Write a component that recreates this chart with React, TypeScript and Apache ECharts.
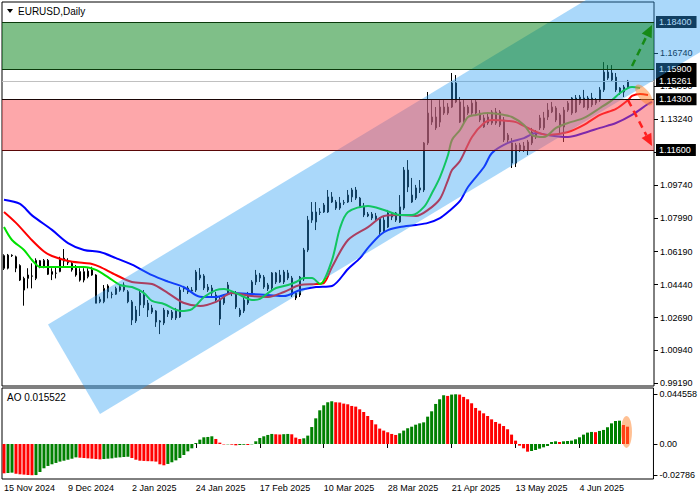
import React, { useEffect, useRef } from "react";
import * as echarts from "echarts";

// ---------- DATA ----------
const dateLabels = ["15 Nov 2024", "9 Dec 2024", "2 Jan 2025", "24 Jan 2025", "17 Feb 2025", "10 Mar 2025", "28 Mar 2025", "21 Apr 2025", "13 May 2025", "4 Jun 2025"];
const LABEL_STEP = 16;
const SLOT_COUNT = 163;
const categories = Array.from({ length: SLOT_COUNT }, (_, i) => "B" + i);

// [open, close, low, high]
const ohlc: number[][] = [
  [1.0598, 1.0531, 1.0522, 1.0605], [1.0531, 1.0601, 1.0525, 1.0607], [1.0600, 1.0598, 1.0591, 1.0605], [1.0531, 1.0592, 1.0510, 1.0598],
  [1.0545, 1.0468, 1.0463, 1.0552], [1.0477, 1.0415, 1.0332, 1.0486], [1.0477, 1.0495, 1.0424, 1.0531], [1.0490, 1.0489, 1.0424, 1.0557],
  [1.0477, 1.0573, 1.0468, 1.0584], [1.0571, 1.0543, 1.0531, 1.0575], [1.0539, 1.0573, 1.0531, 1.0580], [1.0573, 1.0499, 1.0495, 1.0580],
  [1.0513, 1.0499, 1.0468, 1.0531], [1.0505, 1.0504, 1.0477, 1.0539], [1.0513, 1.0584, 1.0510, 1.0592], [1.0584, 1.0569, 1.0539, 1.0633],
  [1.0561, 1.0560, 1.0548, 1.0584], [1.0557, 1.0523, 1.0513, 1.0566], [1.0531, 1.0495, 1.0486, 1.0548], [1.0513, 1.0468, 1.0460, 1.0531],
  [1.0468, 1.0513, 1.0456, 1.0531], [1.0486, 1.0516, 1.0477, 1.0531], [1.0495, 1.0522, 1.0491, 1.0539], [1.0495, 1.0345, 1.0345, 1.0499],
  [1.0353, 1.0366, 1.0345, 1.0380], [1.0353, 1.0424, 1.0345, 1.0442], [1.0437, 1.0406, 1.0371, 1.0446], [1.0393, 1.0392, 1.0371, 1.0406],
  [1.0393, 1.0424, 1.0389, 1.0433], [1.0415, 1.0433, 1.0406, 1.0442], [1.0442, 1.0415, 1.0406, 1.0456], [1.0406, 1.0353, 1.0345, 1.0415],
  [1.0352, 1.0256, 1.0229, 1.0362], [1.0251, 1.0309, 1.0240, 1.0330], [1.0399, 1.0336, 1.0277, 1.0415], [1.0336, 1.0389, 1.0320, 1.0415],
  [1.0346, 1.0309, 1.0272, 1.0362], [1.0320, 1.0298, 1.0288, 1.0336], [1.0304, 1.0245, 1.0219, 1.0309], [1.0251, 1.0245, 1.0181, 1.0256],
  [1.0240, 1.0309, 1.0229, 1.0320], [1.0288, 1.0304, 1.0272, 1.0309], [1.0298, 1.0267, 1.0256, 1.0309], [1.0304, 1.0267, 1.0256, 1.0320],
  [1.0272, 1.0415, 1.0267, 1.0431], [1.0421, 1.0426, 1.0405, 1.0437], [1.0426, 1.0405, 1.0394, 1.0437], [1.0410, 1.0415, 1.0399, 1.0431],
  [1.0415, 1.0511, 1.0405, 1.0522], [1.0479, 1.0495, 1.0468, 1.0532], [1.0490, 1.0426, 1.0415, 1.0500], [1.0431, 1.0415, 1.0405, 1.0447],
  [1.0426, 1.0399, 1.0378, 1.0442], [1.0389, 1.0362, 1.0352, 1.0405], [1.0261, 1.0365, 1.0229, 1.0378], [1.0346, 1.0383, 1.0336, 1.0394],
  [1.0442, 1.0399, 1.0389, 1.0458], [1.0402, 1.0405, 1.0383, 1.0410], [1.0399, 1.0325, 1.0314, 1.0410], [1.0282, 1.0309, 1.0272, 1.0320],
  [1.0304, 1.0362, 1.0293, 1.0378], [1.0346, 1.0389, 1.0336, 1.0405], [1.0399, 1.0458, 1.0389, 1.0468], [1.0458, 1.0495, 1.0442, 1.0522],
  [1.0495, 1.0479, 1.0458, 1.0506], [1.0484, 1.0431, 1.0421, 1.0495], [1.0442, 1.0421, 1.0410, 1.0453], [1.0426, 1.0506, 1.0415, 1.0511],
  [1.0506, 1.0458, 1.0447, 1.0511], [1.0458, 1.0495, 1.0453, 1.0522], [1.0511, 1.0458, 1.0447, 1.0522], [1.0506, 1.0479, 1.0468, 1.0522],
  [1.0479, 1.0389, 1.0378, 1.0490], [1.0373, 1.0399, 1.0362, 1.0405], [1.0389, 1.0484, 1.0378, 1.0490], [1.0474, 1.0628, 1.0463, 1.0639],
  [1.0628, 1.0787, 1.0617, 1.0809], [1.0787, 1.0830, 1.0772, 1.0883], [1.0777, 1.0830, 1.0734, 1.0883], [1.0830, 1.0828, 1.0814, 1.0851],
  [1.0830, 1.0867, 1.0825, 1.0878], [1.0830, 1.0910, 1.0825, 1.0947], [1.0910, 1.0883, 1.0878, 1.0936], [1.0883, 1.0851, 1.0841, 1.0894],
  [1.0851, 1.0878, 1.0841, 1.0910], [1.0878, 1.0880, 1.0867, 1.0894], [1.0883, 1.0920, 1.0878, 1.0947], [1.0910, 1.0947, 1.0883, 1.0958],
  [1.0947, 1.0904, 1.0894, 1.0963], [1.0904, 1.0857, 1.0851, 1.0910], [1.0857, 1.0814, 1.0803, 1.0878], [1.0819, 1.0809, 1.0803, 1.0830],
  [1.0819, 1.0798, 1.0787, 1.0830], [1.0793, 1.0809, 1.0777, 1.0825], [1.0798, 1.0724, 1.0708, 1.0803], [1.0787, 1.0724, 1.0718, 1.0803],
  [1.0750, 1.0825, 1.0745, 1.0841], [1.0825, 1.0803, 1.0787, 1.0830], [1.0825, 1.0787, 1.0777, 1.0830], [1.0777, 1.0857, 1.0772, 1.0920],
  [1.0851, 1.1053, 1.0841, 1.1069], [1.1053, 1.0963, 1.0936, 1.1106], [1.0920, 1.0883, 1.0878, 1.1011], [1.0904, 1.0958, 1.0894, 1.0974],
  [1.0947, 1.0958, 1.0931, 1.1000], [1.0947, 1.1197, 1.0936, 1.1202], [1.1197, 1.1356, 1.1186, 1.1468], [1.1308, 1.1335, 1.1293, 1.1425],
  [1.1335, 1.1277, 1.1266, 1.1388], [1.1308, 1.1388, 1.1282, 1.1425], [1.1388, 1.1356, 1.1346, 1.1425], [1.1356, 1.1388, 1.1346, 1.1409],
  [1.1388, 1.1516, 1.1383, 1.1569], [1.1516, 1.1415, 1.1409, 1.1558], [1.1415, 1.1308, 1.1303, 1.1441], [1.1308, 1.1388, 1.1303, 1.1425],
  [1.1388, 1.1356, 1.1346, 1.1399], [1.1356, 1.1409, 1.1346, 1.1425], [1.1415, 1.1356, 1.1346, 1.1425], [1.1356, 1.1319, 1.1308, 1.1372],
  [1.1330, 1.1282, 1.1277, 1.1346], [1.1303, 1.1335, 1.1293, 1.1356], [1.1362, 1.1303, 1.1293, 1.1372], [1.1303, 1.1362, 1.1293, 1.1383],
  [1.1362, 1.1293, 1.1282, 1.1372], [1.1319, 1.1213, 1.1202, 1.1335], [1.1239, 1.1213, 1.1197, 1.1250], [1.1197, 1.1090, 1.1064, 1.1223],
  [1.1090, 1.1186, 1.1069, 1.1197], [1.1186, 1.1160, 1.1149, 1.1197], [1.1181, 1.1160, 1.1149, 1.1202], [1.1160, 1.1202, 1.1133, 1.1213],
  [1.1197, 1.1255, 1.1186, 1.1277], [1.1229, 1.1255, 1.1218, 1.1266], [1.1330, 1.1277, 1.1266, 1.1346], [1.1277, 1.1330, 1.1266, 1.1362],
  [1.1372, 1.1335, 1.1319, 1.1409], [1.1362, 1.1388, 1.1356, 1.1415], [1.1383, 1.1319, 1.1308, 1.1393], [1.1346, 1.1282, 1.1250, 1.1356],
  [1.1282, 1.1372, 1.1202, 1.1388], [1.1372, 1.1409, 1.1362, 1.1420], [1.1356, 1.1436, 1.1346, 1.1441], [1.1436, 1.1362, 1.1356, 1.1452],
  [1.1409, 1.1441, 1.1399, 1.1452], [1.1436, 1.1388, 1.1383, 1.1479], [1.1436, 1.1383, 1.1372, 1.1447], [1.1399, 1.1436, 1.1388, 1.1463],
  [1.1425, 1.1409, 1.1399, 1.1436], [1.1425, 1.1479, 1.1415, 1.1494], [1.1479, 1.1574, 1.1468, 1.1627], [1.1574, 1.1542, 1.1532, 1.1611],
  [1.1532, 1.1569, 1.1521, 1.1611], [1.1547, 1.1479, 1.1468, 1.1569], [1.1489, 1.1463, 1.1452, 1.1494], [1.1468, 1.1494, 1.1441, 1.1505],
  [1.1494, 1.15261, 1.1489, 1.1532],
];

// Alligator lines: [bar index, price]
const jawPoints: number[][] = [
  [0, 1.0895], [4, 1.0873], [7, 1.0812], [12, 1.0735], [16, 1.0665], [20, 1.0628], [24, 1.0617], [28, 1.0585], [32, 1.0550],
  [37, 1.0494], [41, 1.0460], [45, 1.0430], [49, 1.0380], [53, 1.0378], [57, 1.0399], [62, 1.0394], [66, 1.0389], [70, 1.0383],
  [74, 1.0415], [78, 1.0431], [82, 1.0437], [86, 1.0527], [89, 1.0585], [91, 1.0639], [94, 1.0708], [96, 1.0734], [99, 1.0750],
  [103, 1.0761], [106, 1.0772], [109, 1.0798], [111, 1.0830], [114, 1.0889], [116, 1.0963], [120, 1.1069], [122, 1.1144],
  [126, 1.1197], [130, 1.1223], [133, 1.1250], [136, 1.1239], [141, 1.1229], [145, 1.1250], [149, 1.1277], [153, 1.1303],
  [157, 1.1346], [161, 1.1404], [162, 1.1415],
];
const teethPoints: number[][] = [
  [0, 1.0830], [3, 1.0772], [7, 1.0680], [10, 1.0620], [12, 1.0596], [16, 1.0570], [20, 1.0559], [22, 1.0554], [24, 1.0538],
  [28, 1.0495], [32, 1.0458], [37, 1.0447], [41, 1.0399], [45, 1.0346], [49, 1.0330], [53, 1.0352], [57, 1.0399], [62, 1.0383],
  [66, 1.0378], [70, 1.0405], [74, 1.0442], [78, 1.0447], [80, 1.0453], [82, 1.0538], [86, 1.0681], [91, 1.0750], [95, 1.0809],
  [99, 1.0814], [103, 1.0809], [106, 1.0841], [109, 1.0900], [111, 1.1000], [112, 1.1053], [114, 1.1101], [117, 1.1229],
  [120, 1.1303], [122, 1.1319], [126, 1.1314], [128, 1.1308], [132, 1.1266], [136, 1.1239], [141, 1.1255], [145, 1.1293],
  [149, 1.1346], [153, 1.1378], [156, 1.1425], [157, 1.1447], [159, 1.1457], [161, 1.1452],
];
const lipsPoints: number[][] = [
  [0, 1.0750], [2, 1.0681], [5, 1.0628], [7, 1.0575], [9, 1.0538], [12, 1.0538], [16, 1.0538], [20, 1.0538], [23, 1.0522],
  [26, 1.0484], [29, 1.0442], [32, 1.0431], [35, 1.0399], [37, 1.0357], [40, 1.0341], [44, 1.0304], [47, 1.0314], [50, 1.0378],
  [53, 1.0415], [55, 1.0421], [58, 1.0399], [60, 1.0378], [62, 1.0362], [64, 1.0368], [66, 1.0399], [68, 1.0426], [71, 1.0442],
  [73, 1.0458], [75, 1.0479], [77, 1.0479], [79, 1.0447], [82, 1.0575], [84, 1.0745], [86, 1.0830], [91, 1.0862], [95, 1.0841],
  [99, 1.0814], [102, 1.0814], [105, 1.0857], [107, 1.0931], [109, 1.1016], [111, 1.1133], [112, 1.1213], [114, 1.1266],
  [116, 1.1335], [118, 1.1346], [121, 1.1356], [125, 1.1346], [127, 1.1335], [130, 1.1293], [132, 1.1239], [135, 1.1229],
  [138, 1.1277], [141, 1.1303], [145, 1.1330], [149, 1.1383], [152, 1.1425], [154, 1.1463], [156, 1.1489], [157, 1.1494],
  [159, 1.1489],
];

// Awesome Oscillator
const aoValues: number[] = [
  -0.0263, -0.0260, -0.0257, -0.0266, -0.0272, -0.0275, -0.0278, -0.0280, -0.02786,
  -0.0251, -0.0218, -0.0197, -0.0182, -0.0170, -0.0158, -0.0150, -0.0141, -0.0132, -0.0120,
  -0.0123, -0.0126, -0.0129, -0.0132, -0.0135, -0.0138,
  -0.0135, -0.0132, -0.0129, -0.0123, -0.0120, -0.0117, -0.0114,
  -0.0126, -0.0141, -0.0150, -0.0152, -0.0154, -0.0155, -0.0158, -0.0182, -0.0191,
  -0.0179, -0.0164, -0.0147, -0.0126, -0.0099, -0.0066, -0.0039,
  0.0009, 0.0039, 0.0060, 0.0063, 0.0069,
  0.0045, 0.0012, -0.0004, -0.0003, -0.0006, -0.0012, -0.0009, -0.0007, -0.0009, -0.0003,
  0.0024, 0.0054, 0.0069, 0.0081, 0.0090,
  0.0087, 0.0085, 0.0088, 0.0090, 0.0087, 0.0057, 0.0045,
  0.0051, 0.0075, 0.0152, 0.0230, 0.0302, 0.0347, 0.0374, 0.0383,
  0.0374, 0.0372, 0.0362, 0.0356, 0.0341, 0.0335, 0.0311, 0.0287, 0.0251, 0.0215, 0.0176, 0.0138, 0.0120, 0.0105, 0.0090, 0.0081,
  0.0096, 0.0120, 0.0141, 0.0155, 0.0173, 0.0185, 0.0194, 0.0245, 0.0293, 0.0359, 0.0401, 0.0437,
  0.0431, 0.0443, 0.044558, 0.0443, 0.0422, 0.0401, 0.0365, 0.0323, 0.0299, 0.0275, 0.0251, 0.0221, 0.0197, 0.0182, 0.0161, 0.0132, 0.0084, 0.0030, -0.0015, -0.0039, -0.0069,
  -0.0063, -0.0054, -0.0042, -0.0030, -0.0018, 0.0018, 0.0024,
  0.0018, 0.0024, 0.0027, 0.0030, 0.0042, 0.0060, 0.0084, 0.0102, 0.0108,
  0.0106, 0.0117, 0.0126, 0.0150, 0.0185, 0.0206, 0.0209,
  0.0170, 0.015522,
];
const aoLabel = "AO 0.015522";

// Axis ticks
const priceTicks = [1.1674, 1.1499, 1.1324, 1.1149, 1.0974, 1.0799, 1.0619, 1.0444, 1.0269, 1.0094, 0.9919];
const aoTicks = [0.044558, 0, -0.02786];
const PRICE_MIN = 0.9905;
const PRICE_MAX = 1.19464;
const AO_MIN = -0.0314;
const AO_MAX = 0.0502;

// Levels / zones
const greenZone = [1.159, 1.184];
const redZone = [1.116, 1.143];
const lastPrice = 1.15261;
const boxedLevels = [1.184, 1.159, 1.143, 1.116];

// Channel (anchors in bar index / price)
const channelUpperStart = [11, 1.02325];
const channelLowerStart = [24, 0.97562];
const channelSlope = 0.0012823; // price per bar

// Forecast arrows and highlights
const greenArrow = [[157, 1.1606], [162, 1.1824]];
const redArrow = [[156, 1.1425], [162, 1.1181]];
const priceEllipse = [160, 1.1452];
const aoEllipse = [156, 0.0108];

// ---------- STYLE ----------
const FONT = "'Liberation Sans', Arial, sans-serif";
const AXIS_FS = 9;

const aoColors = aoValues.map((v, i) => (i > 0 && v > aoValues[i - 1] ? "#008000" : "#ff0000"));

function linearMapper(api: any, i0: number, v0: number, i1: number, v1: number) {
  const a = api.coord([i0, v0]);
  const b = api.coord([i1, v1]);
  const sx = (b[0] - a[0]) / (i1 - i0);
  const sy = (b[1] - a[1]) / (v1 - v0);
  return (i: number, v: number) => [a[0] + (i - i0) * sx, a[1] + (v - v0) * sy];
}

function arrowShapes(toPx: any, from: number[], to: number[], color: string) {
  const s = toPx(from[0], from[1]);
  const t = toPx(to[0], to[1]);
  const ang = Math.atan2(t[1] - s[1], t[0] - s[0]);
  const L = 12, W = 5.5;
  const base = [t[0] - L * Math.cos(ang), t[1] - L * Math.sin(ang)];
  const left = [base[0] + W * Math.sin(ang), base[1] - W * Math.cos(ang)];
  const right = [base[0] - W * Math.sin(ang), base[1] + W * Math.cos(ang)];
  return [
    { type: "line", shape: { x1: s[0], y1: s[1], x2: base[0], y2: base[1] }, style: { stroke: color, lineWidth: 2.5, lineDash: [7, 5] } },
    { type: "polygon", shape: { points: [t, left, right] }, style: { fill: color } },
  ];
}

const tickInterval = (index: number) => index % LABEL_STEP === 0 && index / LABEL_STEP < dateLabels.length;

const lineSeries = (name: string, pts: number[][], color: string) => ({
  name,
  type: "line",
  xAxisIndex: 0,
  yAxisIndex: 0,
  z: 3,
  data: pts,
  showSymbol: false,
  smooth: 0.3,
  lineStyle: { color, width: 2 },
  silent: true,
});

const option: any = {
  animation: false,
  backgroundColor: "#ffffff",
  textStyle: { fontFamily: FONT },
  grid: [
    { left: 2, top: 2, width: 652, height: 384, show: true, borderColor: "#000", borderWidth: 1 },
    { left: 2, top: 388, width: 652, height: 91, show: true, borderColor: "#000", borderWidth: 1 },
  ],
  xAxis: [
    {
      type: "category", gridIndex: 0, data: categories, boundaryGap: true,
      axisLine: { show: false }, axisTick: { show: false }, axisLabel: { show: false }, splitLine: { show: false },
    },
    {
      type: "category", gridIndex: 1, data: categories, boundaryGap: true,
      axisLine: { show: false },
      axisTick: { show: true, alignWithLabel: true, interval: tickInterval, length: 4, lineStyle: { color: "#000" } },
      axisLabel: {
        show: true, interval: tickInterval, align: "left", margin: 4, color: "#000", fontSize: AXIS_FS, fontFamily: FONT,
        formatter: (_v: string, idx: number) => dateLabels[idx / LABEL_STEP] ?? "",
      },
      splitLine: { show: false },
    },
  ],
  yAxis: [
    {
      type: "value", gridIndex: 0, position: "right", min: PRICE_MIN, max: PRICE_MAX, scale: true,
      axisLine: { show: false },
      axisTick: { show: true, length: 4, customValues: priceTicks, lineStyle: { color: "#000" } },
      axisLabel: { customValues: priceTicks, formatter: (v: number) => v.toFixed(5), color: "#000", fontSize: AXIS_FS, fontFamily: FONT, margin: 6 },
      splitLine: { show: false },
    },
    {
      type: "value", gridIndex: 1, position: "right", min: AO_MIN, max: AO_MAX,
      axisLine: { show: false },
      axisTick: { show: true, length: 4, customValues: aoTicks, lineStyle: { color: "#000" } },
      axisLabel: {
        customValues: aoTicks, color: "#000", fontSize: AXIS_FS, fontFamily: FONT, margin: 6,
        formatter: (v: number) => (v === 0 ? "0.00" : String(v)),
      },
      splitLine: { show: false },
    },
  ],
  graphic: [
    { type: "polygon", shape: { points: [[7, 9], [13, 9], [10, 13]] }, style: { fill: "#000" }, z: 20 },
    { type: "text", x: 18, y: 11, style: { text: "EURUSD,Daily", fill: "#000", fontSize: 10, fontFamily: FONT, verticalAlign: "middle" }, z: 20 },
    { type: "text", x: 7, y: 397, style: { text: aoLabel, fill: "#000", fontSize: 10, fontFamily: FONT, verticalAlign: "middle" }, z: 20 },
  ],
  series: [
    {
      name: "EURUSD", type: "candlestick", xAxisIndex: 0, yAxisIndex: 0, z: 2, barWidth: 2, data: ohlc, silent: true,
      itemStyle: { color: "#ffffff", color0: "#000000", borderColor: "#000000", borderColor0: "#000000", borderWidth: 1 },
    },
    lineSeries("Jaw", jawPoints, "#0000ff"),
    lineSeries("Teeth", teethPoints, "#ff0000"),
    lineSeries("Lips", lipsPoints, "#00e000"),
    {
      name: "levelLabels", type: "line", xAxisIndex: 0, yAxisIndex: 0, z: 4, data: [], silent: true,
      markLine: {
        z: 4, silent: true, symbol: ["none", "none"], animation: false, precision: 5,
        lineStyle: { color: "rgba(0,0,0,0)", width: 1, type: "solid" },
        label: {
          show: true, position: "end", distance: 2, color: "#fff", backgroundColor: "#000", padding: [2, 5, 1, 3],
          fontSize: AXIS_FS, fontFamily: FONT, formatter: (p: any) => Number(p.value).toFixed(5),
        },
        data: [
          ...boxedLevels.map((v) => ({ yAxis: v })),
          { yAxis: lastPrice, lineStyle: { color: "#c0c0c0", width: 1, type: "solid" } },
        ],
      },
    },
    {
      name: "channel", type: "custom", xAxisIndex: 0, yAxisIndex: 0, z: 5, clip: false, silent: true,
      data: [[0, 1.1]],
      renderItem: (_params: any, api: any) => {
        const toPx = linearMapper(api, 0, 1.0, 100, 1.1);
        const a = toPx(channelUpperStart[0], channelUpperStart[1]);
        const b = toPx(channelLowerStart[0], channelLowerStart[1]);
        const farIdx = channelUpperStart[0] + 250;
        const c = toPx(farIdx, channelUpperStart[1] + 250 * channelSlope);
        const dx = c[0] - a[0], dy = c[1] - a[1];
        return {
          type: "polygon",
          shape: { points: [a, b, [b[0] + dx, b[1] + dy], [a[0] + dx, a[1] + dy]] },
          style: { fill: "rgba(43,158,243,0.4)" },
        };
      },
    },
    {
      name: "zones", type: "line", xAxisIndex: 0, yAxisIndex: 0, z: 6, data: [], silent: true,
      markArea: {
        z: 6, silent: true, precision: 5,
        data: [
          [{ yAxis: greenZone[0], itemStyle: { color: "rgba(0,128,17,0.5)" } }, { yAxis: greenZone[1] }],
          [{ yAxis: redZone[0], itemStyle: { color: "rgba(251,79,85,0.5)" } }, { yAxis: redZone[1] }],
        ],
      },
    },
    {
      name: "zoneEdges", type: "line", xAxisIndex: 0, yAxisIndex: 0, z: 7, data: [], silent: true,
      markLine: {
        z: 7, silent: true, symbol: ["none", "none"], animation: false, precision: 5, label: { show: false },
        data: [
          { yAxis: greenZone[1], lineStyle: { color: "#0b3a0b", width: 1, type: "solid" } },
          { yAxis: greenZone[0], lineStyle: { color: "#0b3a0b", width: 1, type: "solid" } },
          { yAxis: redZone[1], lineStyle: { color: "#1a0606", width: 1, type: "solid" } },
          { yAxis: redZone[0], lineStyle: { color: "#5a0808", width: 1, type: "solid" } },
        ],
      },
    },
    {
      name: "forecast", type: "custom", xAxisIndex: 0, yAxisIndex: 0, z: 8, clip: false, silent: true,
      data: [[0, 1.1]],
      renderItem: (_params: any, api: any) => {
        const toPx = linearMapper(api, 0, 1.0, 100, 1.1);
        const e = toPx(priceEllipse[0], priceEllipse[1]);
        return {
          type: "group",
          children: [
            { type: "circle", x: e[0], y: e[1], scaleX: 12.5, scaleY: 5.5, rotation: -0.9, shape: { cx: 0, cy: 0, r: 1 }, style: { fill: "rgba(255,130,40,0.5)" } },
            ...arrowShapes(toPx, greenArrow[0], greenArrow[1], "#168a16"),
            ...arrowShapes(toPx, redArrow[0], redArrow[1], "#ff2020"),
          ],
        };
      },
    },
    {
      name: "AO", type: "bar", xAxisIndex: 1, yAxisIndex: 1, z: 2, barWidth: 3, data: aoValues, silent: true,
      itemStyle: { color: (p: any) => aoColors[p.dataIndex] },
    },
    {
      name: "aoMark", type: "custom", xAxisIndex: 1, yAxisIndex: 1, z: 8, clip: false, silent: true,
      data: [[0, 0]],
      renderItem: (_params: any, api: any) => {
        const toPx = linearMapper(api, 0, 0, 100, 0.02);
        const e = toPx(aoEllipse[0], aoEllipse[1]);
        return { type: "circle", x: e[0] - 1, y: e[1], scaleX: 5.5, scaleY: 16, shape: { cx: 0, cy: 0, r: 1 }, style: { fill: "rgba(255,130,40,0.5)" } };
      },
    },
  ],
};

export default function App() {
  const ref = useRef<HTMLDivElement>(null);
  useEffect(() => {
    if (!ref.current) return;
    const chart = echarts.init(ref.current, null, { renderer: "svg" });
    chart.setOption(option);
    return () => chart.dispose();
  }, []);
  return <div ref={ref} style={{ position: "fixed", left: 0, top: 0, width: 700, height: 500, background: "#fff" }} />;
}
